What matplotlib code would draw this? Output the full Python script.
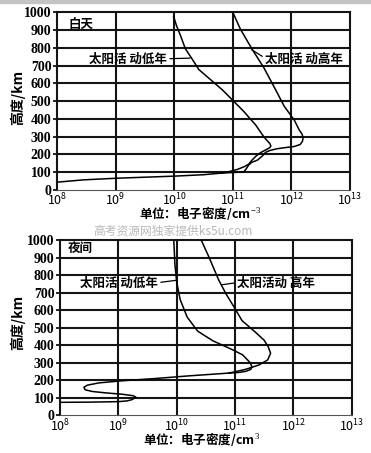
import numpy as np
import matplotlib
matplotlib.use("Agg")
import matplotlib.pyplot as plt
from matplotlib.patches import Rectangle

plt.rcParams['font.family'] = ['Noto Sans CJK SC', 'DejaVu Sans']
plt.rcParams['mathtext.fontset'] = 'custom'
plt.rcParams['mathtext.rm'] = 'Liberation Serif'
plt.rcParams['mathtext.it'] = 'Liberation Serif:italic'
plt.rcParams['mathtext.bf'] = 'Liberation Serif:bold'

# ---------------- data (log10 electron density [cm^-3], altitude [km]) ----------------
# Daytime, solar minimum
day_low_logn = [8.0, 8.45, 9.0, 9.5, 10.0, 10.5, 10.8, 10.9, 11.08, 11.2, 11.27, 11.33,
                11.40, 11.45, 11.50, 11.57, 11.63, 11.65, 11.63, 11.58, 11.53, 11.39,
                11.19, 10.99, 10.82, 10.62, 10.42, 10.31, 10.19, 10.11, 10.04, 10.0, 9.99]
day_low_alt = [44, 57, 66, 72, 78, 86, 95, 100, 116, 132, 145, 169,
               192, 205, 215, 227, 238, 248, 262, 280, 299, 366,
               441, 508, 564, 621, 678, 735, 795, 867, 924, 966, 975]
# Daytime, solar maximum
day_high_logn = [10.8, 10.9, 11.05, 11.19, 11.22, 11.27, 11.32, 11.42, 11.50, 11.56,
                 11.63, 11.75, 11.93, 12.05, 12.15, 12.19, 12.20, 12.18, 12.13, 12.05,
                 11.88, 11.70, 11.53, 11.33, 11.13, 11.0]
day_high_alt = [95, 97, 99, 103, 115, 140, 155, 168, 190, 212,
                222, 232, 240, 245, 256, 275, 295, 315, 340, 393,
                470, 583, 688, 792, 905, 1000]

# Night, shared lower part
night_base_logn = [8.0, 8.5, 9.0, 9.15, 9.24, 9.30, 9.25, 9.07, 8.78, 8.55, 8.43, 8.41,
                   8.47, 8.67, 9.07, 9.64, 10.21, 10.6, 10.9]
night_base_alt = [74, 75, 78, 82, 90, 104, 112, 120, 128, 136, 146, 160,
                  172, 185, 197, 210, 225, 234, 241]
# Night, solar minimum
night_low_logn = [10.9, 11.05, 11.19, 11.27, 11.29, 11.26, 11.13, 10.95, 10.62, 10.36,
                  10.18, 10.06, 10.0, 9.97, 9.95]
night_low_alt = [241, 244, 251, 262, 276, 300, 345, 375, 425, 480,
                 560, 660, 760, 860, 1000]
# Night, solar maximum
night_high_logn = [10.9, 11.18, 11.41, 11.56, 11.61, 11.57, 11.50, 11.33, 11.12, 10.97,
                   10.85, 10.72, 10.55, 10.42]
night_high_alt = [241, 262, 287, 316, 354, 390, 428, 480, 540, 625,
                  690, 772, 905, 1000]

x_exponents = [8, 9, 10, 11, 12, 13]
y_ticks = [0, 100, 200, 300, 400, 500, 600, 700, 800, 900, 1000]

W, H = 371, 453
fig = plt.figure(figsize=(W / 100, H / 100), dpi=100)
fig.patch.set_facecolor('white')
fig.patches.append(Rectangle((0, 1 - 3 / H), 1, 3 / H, transform=fig.transFigure,
                             color='#c4c4c4', zorder=0))


def make_axes(l, r, t, b):
    return fig.add_axes([l / W, 1 - b / H, (r - l) / W, (b - t) / H])


ax1 = make_axes(57, 350, 12.3, 190)
ax2 = make_axes(60, 351.7, 240, 415.3)

serif = 'Liberation Serif'
for ax in (ax1, ax2):
    ax.set_xscale('log')
    ax.set_xlim(10.0 ** 8, 10.0 ** 13)
    ax.set_ylim(0, 1000)
    ax.set_xticks([10.0 ** e for e in x_exponents])
    ax.set_xticklabels([r'$\mathregular{10^{%d}}$' % e for e in x_exponents],
                       fontsize=9)
    ax.minorticks_off()
    ax.set_yticks(y_ticks)
    ax.set_yticklabels([str(v) for v in y_ticks], fontfamily=serif, fontsize=10,
                       fontweight='bold')
    ax.tick_params(axis='y', length=3, width=1.2, pad=1, direction='out')
    ax.tick_params(axis='x', length=0, pad=1.5)
    for e in x_exponents[1:-1]:
        ax.axvline(10.0 ** e, color='#151515', lw=1.5, zorder=1)
    for v in y_ticks[1:-1]:
        ax.axhline(v, color='#151515', lw=1.5, zorder=1)
    for s in ('left', 'top', 'right'):
        ax.spines[s].set_linewidth(1.5)
        ax.spines[s].set_color('#151515')
    ax.spines['bottom'].set_linewidth(0.8)
    ax.spines['bottom'].set_color('#555555')


def p(ax, logn, alt):
    ax.plot(10.0 ** np.array(logn), alt, color='black', lw=1.1, zorder=3,
            solid_joinstyle='round')


p(ax1, day_low_logn, day_low_alt)
p(ax1, day_high_logn, day_high_alt)
p(ax2, night_base_logn, night_base_alt)
p(ax2, night_low_logn, night_low_alt)
p(ax2, night_high_logn, night_high_alt)

tkw = dict(fontsize=9, fontweight='bold', va='center', zorder=5)
ax1.text(10 ** 8.19, 932, '白天', ha='left', **tkw)
ax2.text(10 ** 8.14, 950, '夜间', ha='left', **tkw)

ax1.annotate('太阳活 动低年', xy=(10 ** 10.27, 742), xytext=(10 ** 9.88, 735),
             ha='right', arrowprops=dict(arrowstyle='-', lw=0.9, color='black',
                                         shrinkA=0, shrinkB=0, relpos=(1, 0.55)), **tkw)
ax1.annotate('太阳活 动高年', xy=(10 ** 11.32, 790), xytext=(10 ** 11.55, 735),
             ha='left', arrowprops=dict(arrowstyle='-', lw=0.9, color='black',
                                        shrinkA=0, shrinkB=0, relpos=(0, 0.6)), **tkw)
ax2.annotate('太阳活 动低年', xy=(10 ** 9.99, 770), xytext=(10 ** 9.68, 753),
             ha='right', arrowprops=dict(arrowstyle='-', lw=0.9, color='black',
                                         shrinkA=0, shrinkB=0, relpos=(1, 0.55)), **tkw)
ax2.annotate('太阳活动 高年', xy=(10 ** 10.78, 745), xytext=(10 ** 11.03, 753),
             ha='left', arrowprops=dict(arrowstyle='-', lw=0.9, color='black',
                                        shrinkA=0, shrinkB=0, relpos=(0, 0.55)), **tkw)

lab = dict(fontsize=10, fontweight='bold')
fig.text(18 / W, 1 - 97 / H, '高度/km', rotation=90, ha='center', va='center', **lab)
fig.text(18 / W, 1 - 322 / H, '高度/km', rotation=90, ha='center', va='center', **lab)
fig.text(200 / W, 1 - 213 / H, '单位：电子密度/cm$^{-3}$', ha='center', va='center',
         fontsize=9, fontweight='bold')
fig.text(202 / W, 1 - 439 / H, '单位：电子密度/cm$^{3}$', ha='center', va='center',
         fontsize=9, fontweight='bold')
fig.text(173 / W, 1 - 231 / H, '高考资源网独家提供ks5u.com', ha='center', va='center',
         fontsize=8.5, color='#b8b8b8')

fig.savefig('out.png', dpi=100)
